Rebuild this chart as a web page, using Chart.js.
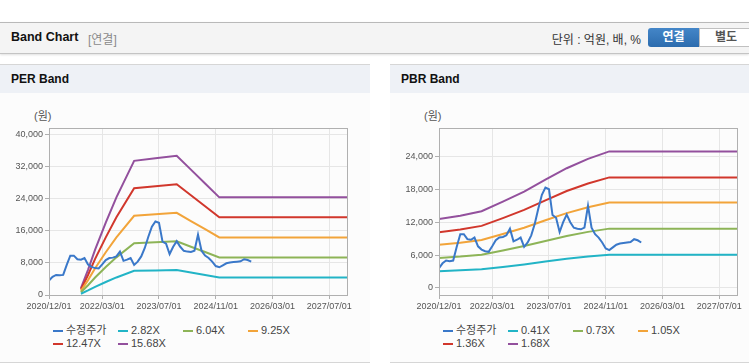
<!DOCTYPE html>
<html lang="ko">
<head>
<meta charset="UTF-8">
<title>Band Chart</title>
<script src="https://cdn.jsdelivr.net/npm/chart.js"></script>
<style>
    body {
        margin: 0;
        width: 749px;
        height: 364px;
        overflow: hidden;
        background: #fff;
        font-family: 'Liberation Sans', 'Noto Sans CJK KR', sans-serif;
        position: relative;
    }
    .topbar {
        position: absolute;
        left: 0; top: 22px;
        width: 749px; height: 30px;
        background: #f4f4f4;
        border-top: 1px solid #b9b9b9;
        border-bottom: 1px solid #c4c4c4;
        box-shadow: 0 1px 2px rgba(0,0,0,0.12);
    }
    .topbar .title {
        position: absolute; left: 11px; top: 7px;
        font-size: 12.5px; font-weight: bold; color: #111;
    }
    .topbar .sub {
        position: absolute; left: 88px; top: 7px;
        font-size: 12px; color: #8a8a8a;
    }
    .topbar .unit {
        position: absolute; right: 108px; top: 7px;
        font-size: 12px; color: #333;
    }
    .btn {
        position: absolute; top: 5px; height: 19px;
        font-size: 12px; font-weight: bold; text-align: center; line-height: 19px;
    }
    .btn.on {
        left: 648px; width: 51px;
        background: linear-gradient(#4486c8, #2c6cae);
        color: #fff; border-radius: 3px 0 0 3px;
    }
    .btn.off {
        left: 699px; width: 52px;
        background: #fff; color: #555;
        border: 1px solid #c0c0c0; height: 17px; line-height: 17px;
    }
    .panel {
        position: absolute; top: 64px; height: 297px;
        background: #fcfcfc;
        border-top: 1px solid #d6d6d6;
        border-bottom: 1px solid #d6d6d6;
    }
    .panel .head {
        height: 28px; background: #eef1f6;
        font-size: 12px; font-weight: bold; color: #111;
        line-height: 29px; padding-left: 11px;
    }
    .unitlabel {
        position: absolute; top: 110px;
        font-size: 11px; color: #555; line-height: 13px;
    }
    .chartbox { position: absolute; top: 100px; height: 215px; }
    .legend {
        position: absolute; top: 324px;
        display: grid; grid-template-columns: repeat(4, 65px);
        font-size: 11px; color: #444; line-height: 13px;
    }
    .legend span { display: flex; align-items: center; white-space: nowrap; }
    .legend i { display: inline-block; width: 10px; height: 2px; margin-right: 3px; }
</style>
</head>
<body>
<div class="topbar">
    <span class="title">Band Chart</span>
    <span class="sub">[연결]</span>
    <span class="unit">단위 : 억원, 배, %</span>
    <span class="btn on">연결</span>
    <span class="btn off">별도</span>
</div>

<div class="panel" style="left:0; width:370px;"><div class="head">PER Band</div></div>
<div class="panel" style="left:390px; width:359px;"><div class="head">PBR Band</div></div>

<span class="unitlabel" style="left:34px;">(원)</span>
<span class="unitlabel" style="left:424px;">(원)</span>

<div class="chartbox" style="left:0; width:370px;"><canvas id="perChart"></canvas></div>
<div class="chartbox" style="left:390px; width:359px;"><canvas id="pbrChart"></canvas></div>

<div class="legend" id="perLegend" style="left:53px;"></div>
<div class="legend" id="pbrLegend" style="left:443px;"></div>

<script>
// x 값은 2020/12 기준 개월 수
const xTickMonths = [0, 15, 31, 47, 63, 79];
const xTickLabels = ['2020/12/01', '2022/03/01', '2023/07/01', '2024/11/01', '2026/03/01', '2027/07/01'];

// 수정주가 (월별, 2020/12 ~ 2025/09)
const price = [
    3600, 4500, 5000, 4900, 5000, 7500, 9800, 9800, 8900, 8800,
    9200, 7600, 7000, 6700, 6600, 7600, 8700, 9200, 9300, 9600,
    10800, 8500, 8800, 9200, 7500, 8300, 9600, 11700, 14500, 17000,
    18300, 18000, 13300, 12800, 10200, 12000, 13400, 12000, 11000, 10800,
    10700, 11000, 15000, 11000, 9800, 9200, 8300, 7200, 6900, 7400,
    7900, 8100, 8200, 8300, 8400, 8900, 8700, 8300
];

// PER 밴드
const perLabels = ['2.82X', '6.04X', '9.25X', '12.47X', '15.68X'];
const perMonths = [9, 11, 13, 16, 19, 24, 30, 36, 40, 44, 48, 84];
const per282 = [310, 1128, 2030, 3243, 4371, 6007, 6119, 6232, 5612, 4991, 4371, 4371];
const per604 = [664, 2416, 4349, 6946, 9362, 12865, 13107, 13348, 12020, 10691, 9362, 9362];
const per925 = [1018, 3700, 6660, 10638, 14338, 19703, 20073, 20443, 18408, 16373, 14338, 14338];
const per1247 = [1372, 4988, 8978, 14341, 19329, 26561, 27060, 27559, 24815, 22072, 19329, 19329];
const per1568 = [1725, 6272, 11290, 18032, 24304, 33398, 34026, 34653, 31203, 27754, 24304, 24304];
const perYTicks = [0, 8000, 16000, 24000, 32000, 40000];

// PBR 밴드
const pbrLabels = ['0.41X', '0.73X', '1.05X', '1.36X', '1.68X'];
const pbrMonths = [0, 6, 12, 18, 24, 30, 36, 42, 48, 84];
const pbr041 = [3071, 3219, 3415, 3842, 4293, 4822, 5330, 5748, 6080, 6080];
const pbr073 = [5468, 5731, 6081, 6840, 7643, 8585, 9490, 10235, 10826, 10826];
const pbr105 = [7865, 8243, 8747, 9839, 10994, 12348, 13650, 14721, 15572, 15572];
const pbr136 = [10186, 10676, 11329, 12743, 14239, 15994, 17680, 19067, 20169, 20169];
const pbr168 = [12583, 13188, 13994, 15742, 17590, 19757, 21840, 23554, 24914, 24914];
const pbrYTicks = [0, 6000, 12000, 18000, 24000];

const colors = ['#3a78c9', '#22b4c6', '#8db457', '#f2a43a', '#d1372c', '#93509d'];

Chart.defaults.font.family = "'Liberation Sans', 'Noto Sans CJK KR', sans-serif";
Chart.defaults.font.size = 9;
Chart.defaults.color = '#555';

// 차트 영역 테두리
const frame = {
    id: 'frame',
    afterDraw(chart) {
        const a = chart.chartArea, ctx = chart.ctx;
        ctx.save();
        ctx.strokeStyle = '#b0b0b0';
        ctx.lineWidth = 1;
        ctx.strokeRect(Math.round(a.left) + 0.5, Math.round(a.top) + 0.5,
            Math.round(a.right - a.left), Math.round(a.bottom - a.top));
        ctx.restore();
    }
};

function line(label, xs, ys, color) {
    return {
        label: label,
        data: ys.map((v, i) => ({ x: xs[i], y: v })),
        borderColor: color,
        backgroundColor: color,
        borderWidth: 2,
        pointRadius: 0,
        tension: 0,
        fill: false
    };
}

function makeChart(id, bandMonths, bands, bandLabels, yMin, yMax, yTicks, rightPad) {
    const priceMonths = price.map((v, i) => i);
    const datasets = [line('수정주가', priceMonths, price, colors[0])];
    bands.forEach((b, i) => datasets.push(line(bandLabels[i], bandMonths, b, colors[i + 1])));
    return new Chart(document.getElementById(id), {
        type: 'line',
        data: { datasets: datasets },
        options: {
            responsive: true,
            maintainAspectRatio: false,
            animation: false,
            layout: { padding: { top: 28, right: rightPad, left: 0, bottom: 0 } },
            plugins: { legend: { display: false }, tooltip: { enabled: false } },
            scales: {
                x: {
                    type: 'linear',
                    min: 0, max: 84,
                    afterBuildTicks: s => { s.ticks = xTickMonths.map(v => ({ value: v })); },
                    afterFit: s => { s.height = 20; },
                    ticks: {
                        autoSkip: false, maxRotation: 0, padding: 2,
                        callback: v => xTickLabels[xTickMonths.indexOf(v)]
                    },
                    grid: { color: '#e6e6e6', tickColor: '#b0b0b0', tickLength: 4 },
                    border: { color: '#b0b0b0' }
                },
                y: {
                    min: yMin, max: yMax,
                    afterBuildTicks: s => { s.ticks = yTicks.map(v => ({ value: v })); },
                    afterFit: s => { s.width = 49; },
                    ticks: { padding: 2, callback: v => v.toLocaleString('en-US') },
                    grid: { color: '#e6e6e6', tickColor: '#b0b0b0', tickLength: 4 },
                    border: { color: '#b0b0b0' }
                }
            }
        },
        plugins: [frame]
    });
}

makeChart('perChart', perMonths, [per282, per604, per925, per1247, per1568], perLabels, 0, 41565, perYTicks, 23);
makeChart('pbrChart', pbrMonths, [pbr041, pbr073, pbr105, pbr136, pbr168], pbrLabels, -1280, 29180, pbrYTicks, 12);

function legend(id, bandLabels) {
    const box = document.getElementById(id);
    ['수정주가'].concat(bandLabels).forEach((t, i) => {
        const s = document.createElement('span');
        s.innerHTML = '<i style="background:' + colors[i] + '"></i>' + t;
        box.appendChild(s);
    });
}
legend('perLegend', perLabels);
legend('pbrLegend', pbrLabels);
</script>
</body>
</html>
